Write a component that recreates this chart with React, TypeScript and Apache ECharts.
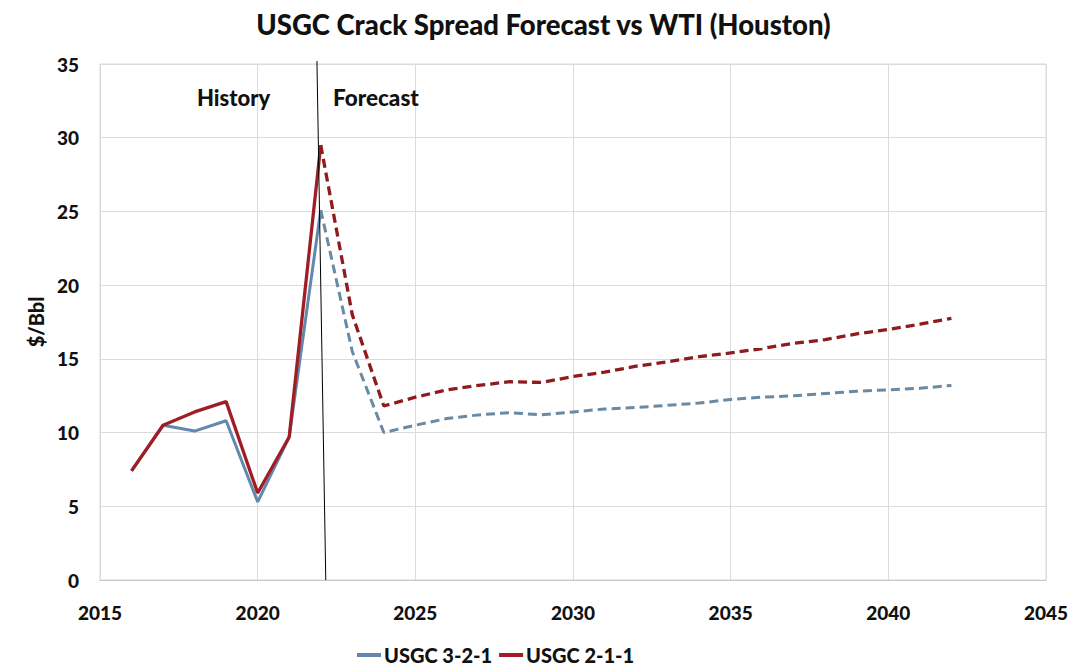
import React, { useEffect, useRef } from "react";
import * as echarts from "echarts";

const historyYears = [2016, 2017, 2018, 2019, 2020, 2021, 2022];
const blueHistory = [7.4, 10.5, 10.1, 10.8, 5.3, 9.7, 25.1];
const redHistory = [7.4, 10.5, 11.4, 12.1, 5.9, 9.7, 29.5];

const forecastYears = [
  2022, 2023, 2024, 2025, 2026, 2027, 2028, 2029, 2030, 2031, 2032, 2033, 2034,
  2035, 2036, 2037, 2038, 2039, 2040, 2041, 2042,
];
const blueForecast = [
  25.1, 15.5, 10.0, 10.5, 10.95, 11.2, 11.35, 11.2, 11.4, 11.6, 11.7, 11.85,
  12.0, 12.25, 12.4, 12.5, 12.65, 12.8, 12.9, 13.0, 13.2,
];
const redForecast = [
  29.5, 18.0, 11.8, 12.4, 12.9, 13.2, 13.45, 13.4, 13.8, 14.1, 14.5, 14.8,
  15.15, 15.4, 15.7, 16.05, 16.3, 16.7, 17.0, 17.35, 17.75,
];

const dividerX = [2021.88, 2022.16];
const dividerY = [35.2, 0];

const seriesNames = ["USGC 3-2-1", "USGC 2-1-1"];
const title = "USGC Crack Spread Forecast vs WTI (Houston)";
const yAxisName = "$/Bbl";

const FONT = "Lato";
const BLUE = "#6289ad";
const BLUE_DASH = "#6a8aa3";
const RED = "#a11d26";
const RED_DASH = "#8e1b1e";

const zip = (xs: number[], ys: number[]) => xs.map((x, i) => [x, ys[i]]);

export default function App() {
  const ref = useRef<HTMLDivElement>(null);
  useEffect(() => {
    if (!ref.current) return;
    const chart = echarts.init(ref.current, undefined, { renderer: "svg" });
    const labelStyle = {
      fontFamily: FONT,
      fontWeight: 900,
      fontSize: 19,
      color: "#111",
    };
    chart.setOption({
      animation: false,
      backgroundColor: "#ffffff",
      title: {
        text: title,
        left: "center",
        top: 5,
        textStyle: { fontFamily: FONT, fontWeight: 900, fontSize: 27.5, color: "#111" },
      },
      grid: {
        left: 100,
        right: 41,
        top: 64,
        bottom: 92,
        show: true,
        borderColor: "#d9d9d9",
        borderWidth: 1,
      },
      legend: {
        data: seriesNames,
        bottom: 2,
        left: 352,
        icon: "rect",
        itemWidth: 24,
        itemHeight: 4,
        itemGap: 7,
        textStyle: { fontFamily: FONT, fontWeight: 900, fontSize: 20, color: "#111", padding: [0, 0, 0, -2] },
      },
      xAxis: {
        type: "value",
        min: 2015,
        max: 2045,
        interval: 5,
        axisLine: { show: true, lineStyle: { color: "#c8c8c8" } },
        axisTick: { show: false },
        splitLine: { show: true, lineStyle: { color: "#dcdcdc" } },
        axisLabel: { ...labelStyle, margin: 23, formatter: (v: number) => String(v) },
      },
      yAxis: {
        type: "value",
        min: 0,
        max: 35,
        interval: 5,
        name: yAxisName,
        nameLocation: "middle",
        nameGap: 54,
        nameTextStyle: { fontFamily: FONT, fontWeight: 900, fontSize: 20, color: "#111" },
        axisLine: { show: true, lineStyle: { color: "#d9d9d9" } },
        axisTick: { show: false },
        splitLine: { show: true, lineStyle: { color: "#dcdcdc" } },
        axisLabel: { ...labelStyle, margin: 21 },
      },
      graphic: [
        {
          type: "text",
          left: 197,
          top: 86,
          z: 100,
          style: { text: "History", fontFamily: FONT, fontWeight: 900, fontSize: 22, fill: "#111" },
        },
        {
          type: "text",
          left: 333,
          top: 86,
          z: 100,
          style: { text: "Forecast", fontFamily: FONT, fontWeight: 900, fontSize: 22.5, fill: "#111" },
        },
      ],
      series: [
        {
          name: seriesNames[0],
          type: "line",
          data: zip(historyYears, blueHistory),
          showSymbol: false,
          symbol: "none",
          itemStyle: { color: BLUE },
          lineStyle: { color: BLUE, width: 3 },
          z: 3,
        },
        {
          name: seriesNames[0],
          type: "line",
          data: zip(forecastYears, blueForecast),
          showSymbol: false,
          symbol: "none",
          itemStyle: { color: BLUE },
          lineStyle: { color: BLUE_DASH, width: 3, type: [9, 5] },
          z: 3,
        },
        {
          name: seriesNames[1],
          type: "line",
          data: zip(historyYears, redHistory),
          showSymbol: false,
          symbol: "none",
          itemStyle: { color: RED },
          lineStyle: { color: RED, width: 3.3 },
          z: 4,
        },
        {
          name: seriesNames[1],
          type: "line",
          data: zip(forecastYears, redForecast),
          showSymbol: false,
          symbol: "none",
          itemStyle: { color: RED },
          lineStyle: { color: RED_DASH, width: 3.3, type: [9, 5] },
          z: 4,
        },
        {
          name: "divider",
          type: "line",
          data: zip(dividerX, dividerY),
          showSymbol: false,
          symbol: "none",
          silent: true,
          clip: false,
          lineStyle: { color: "#000", width: 1 },
          z: 5,
        },
      ],
    });
    return () => chart.dispose();
  }, []);
  return (
    <div
      ref={ref}
      style={{ position: "fixed", left: 0, top: 0, width: 1087, height: 672, background: "#fff" }}
    />
  );
}
